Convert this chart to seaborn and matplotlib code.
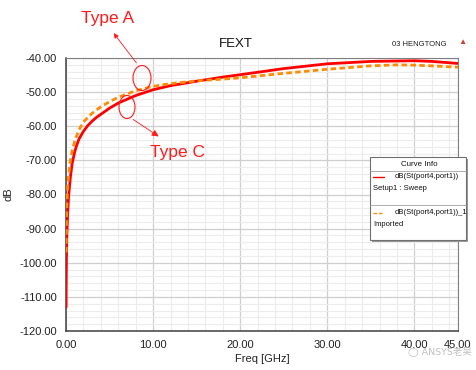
import numpy as np
import pandas as pd
import matplotlib
matplotlib.use("Agg")
import matplotlib.pyplot as plt
from matplotlib.patches import Ellipse, Rectangle
from matplotlib.lines import Line2D
from matplotlib.ticker import MultipleLocator, FixedLocator
import seaborn as sns

# Curve data
freq_sweep = [0.01, 0.02, 0.05, 0.1, 0.2, 0.3, 0.5, 0.7, 1, 1.2, 1.5, 2, 2.5,
              3, 3.5, 4, 5, 6, 8, 10, 12, 15, 18, 20, 25, 30, 35, 40, 42, 45]
db_sweep = [-113, -107, -99, -92, -85, -80.5, -75, -71, -67.5, -65.8, -63.7,
            -61.5, -59.8, -58.5, -57.4, -56.5, -54.7, -53.2, -51.0, -49.3,
            -48.1, -46.8, -45.6, -44.9, -43.1, -41.7, -41.0, -40.8, -41.0, -41.6]
freq_imported = [0.02, 0.05, 0.1, 0.2, 0.3, 0.5, 0.7, 1, 1.5, 2, 2.5, 3, 3.5,
                 4, 5, 6, 8, 10, 12, 15, 18, 20, 25, 30, 35, 38, 40, 42, 45]
db_imported = [-97, -89, -83, -77.5, -74.5, -70, -67.3, -64.3, -61, -58.8,
               -57.4, -56.2, -55.2, -54.3, -52.8, -51.5, -49.6, -48.3, -47.5,
               -46.7, -46.2, -45.8, -44.5, -43.3, -42.3, -42.0, -42.1, -42.3, -42.7]

x_ticks = [0, 10, 20, 30, 40, 45]
y_ticks = [-120, -110, -100, -90, -80, -70, -60, -50, -40]

sns.set_style("white")
plt.rcParams['font.family'] = ['Liberation Sans', 'DejaVu Sans', 'Noto Sans CJK SC']

W, H = 476, 370
fig = plt.figure(figsize=(W / 100, H / 100), dpi=100)
ax = fig.add_axes([66 / W, 1 - 331 / H, (458 - 66) / W, (331 - 58) / H])


def px(x, y):
    return x / W, 1 - y / H


sweep = pd.DataFrame({"Freq": freq_sweep, "dB": db_sweep})
imported = pd.DataFrame({"Freq": freq_imported, "dB": db_imported})
sns.lineplot(data=sweep, x="Freq", y="dB", color="#ff0000", lw=2.0, ax=ax, zorder=3)
sns.lineplot(data=imported, x="Freq", y="dB", color="#ff8c00", lw=2.0,
             linestyle=(0, (2.0, 1.2)), ax=ax, zorder=3)

ax.set_xlim(0, 45)
ax.set_ylim(-120, -40)
ax.xaxis.set_major_locator(FixedLocator(x_ticks))
ax.yaxis.set_major_locator(FixedLocator(y_ticks))
ax.xaxis.set_minor_locator(MultipleLocator(2))
ax.yaxis.set_minor_locator(MultipleLocator(2))
ax.set_xticklabels([f"{t:.2f}" for t in x_ticks])
ax.set_yticklabels([f"{t:.2f}" for t in y_ticks])
ax.grid(which="major", color="#cfcfcf", lw=0.9)
ax.grid(which="minor", color="#ececec", lw=0.8)
ax.set_axisbelow(True)
ax.tick_params(which="major", direction="out", length=5, width=0.9,
               colors="#404040", labelsize=8, labelcolor="#222222", pad=1.5)
ax.tick_params(which="minor", direction="out", length=2.5, width=0.8, colors="#404040")
for side in ["left", "bottom"]:
    ax.spines[side].set_color("#404040")
    ax.spines[side].set_linewidth(1.1)
for side in ["top", "right"]:
    ax.spines[side].set_color("#808080")
    ax.spines[side].set_linewidth(0.8)
ax.set_xlabel("Freq [GHz]", fontsize=8, color="#222222", labelpad=3)
ax.set_ylabel("dB", fontsize=8, color="#222222", labelpad=4)

# Header texts
fig.text(*px(236, 44), "FEXT", fontsize=9.5, ha="center", va="center", color="#111111")
fig.text(*px(419, 44), "03 HENGTONG", fontsize=5.5, ha="center", va="center", color="#222222")
fig.text(*px(462, 43), "\u25b2", fontsize=6, ha="center", va="center", color="#cc4433")

# Curve Info box
lx0, ly0, lx1, ly1 = 370, 157, 466, 240
fig.patches.append(Rectangle(px(lx0 + 2, ly1 + 2), (lx1 - lx0) / W, (ly1 - ly0) / H,
                             transform=fig.transFigure, facecolor="#9a9a9a",
                             edgecolor="none", zorder=4))
fig.patches.append(Rectangle(px(lx0, ly1), (lx1 - lx0) / W, (ly1 - ly0) / H,
                             transform=fig.transFigure, facecolor="white",
                             edgecolor="#707070", lw=0.8, zorder=5))
fig.text(*px(419, 164), "Curve Info", fontsize=5.7, ha="center", va="center", color="#111111", zorder=6)
for yy in [171, 205]:
    fig.lines.append(Line2D([px(lx0, yy)[0], px(lx1, yy)[0]], [px(lx0, yy)[1]] * 2,
                            transform=fig.transFigure, color="#a0a0a0", lw=0.6, zorder=6))
fig.lines.append(Line2D([px(373, 177)[0], px(384, 177)[0]], [px(373, 177)[1]] * 2,
                        transform=fig.transFigure, color="#ff0000", lw=1.0, zorder=6))
fig.lines.append(Line2D([px(373, 213)[0], px(384, 213)[0]], [px(373, 213)[1]] * 2,
                        transform=fig.transFigure, color="#ff8c00", lw=1.0,
                        linestyle=(0, (2.5, 1.5)), zorder=6))
fig.text(*px(395, 177), "dB(St(port4,port1))", fontsize=5.5, va="center", color="#111111", zorder=6)
fig.text(*px(373, 189), "Setup1 : Sweep", fontsize=5.5, va="center", color="#111111", zorder=6)
fig.text(*px(395, 213), "dB(St(port4,port1))_1", fontsize=5.5, va="center", color="#111111", zorder=6)
fig.text(*px(373, 224), "Imported", fontsize=5.5, va="center", color="#111111", zorder=6)

# Type A / Type C call-outs
red = "#ff1a1a"
for (cx, cy, w, h) in [(142, 78, 18, 25), (127, 107, 16, 23)]:
    fig.patches.append(Ellipse(px(cx, cy), w / W, h / H, transform=fig.transFigure,
                               facecolor="none", edgecolor=red, lw=0.8, zorder=6))
fig.text(*px(81, 18), "Type A", fontsize=12.5, va="center", color=red)
fig.text(*px(150, 152), "Type C", fontsize=12.5, va="center", color=red)
ax.annotate("", xy=px(112, 31), xytext=px(138, 65), xycoords="figure fraction",
            textcoords="figure fraction",
            arrowprops=dict(arrowstyle="-|>", color=red, lw=0.6, mutation_scale=7))
ax.annotate("", xy=px(161, 138), xytext=px(131, 118), xycoords="figure fraction",
            textcoords="figure fraction",
            arrowprops=dict(arrowstyle="-|>", color=red, lw=0.6, mutation_scale=10))

# Watermark
fig.text(*px(440, 352), "\u25ef ANSYS老吴", fontsize=6.8, ha="center", va="center",
         color="#b8b8b8", alpha=0.9, family=['DejaVu Sans', 'Noto Sans CJK SC'])

fig.savefig("out.png", dpi=100)
